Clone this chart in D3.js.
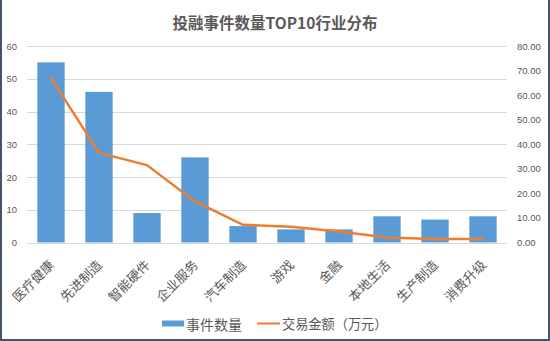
<!DOCTYPE html>
<html>
<head>
<meta charset="utf-8">
<script src="https://cdn.jsdelivr.net/npm/d3@7/dist/d3.min.js"></script>
<style>
  html, body { margin: 0; padding: 0; background: #fff; }
  svg { display: block; }
</style>
</head>
<body>
<svg id="chart" width="550" height="341"></svg>
<script>
// Industries ranked by number of financing events
const categories = ["医疗健康", "先进制造", "智能硬件", "企业服务", "汽车制造", "游戏", "金融", "本地生活", "生产制造", "消费升级"];
// Number of events (left axis)
const eventCounts = [55, 46, 9, 26, 5, 4, 4, 8, 7, 8];
// Deal amount, 万元 (right axis)
const dealAmounts = [67, 36.5, 31.5, 16.7, 7.2, 6.4, 4.5, 2.0, 1.4, 1.4];
const leftTicks = [0, 10, 20, 30, 40, 50, 60];
const rightTicks = [0, 10, 20, 30, 40, 50, 60, 70, 80];

const W = 550, H = 341;
const plot = { left: 27, right: 507, top: 46, bottom: 242.5 };
const textColor = "#595959";
const barColor = "#5B9BD5";
const lineColor = "#ED7D31";
const gridColor = "#D9D9D9";
const cjk = "'Noto Sans CJK SC', 'Noto Sans', sans-serif";
const num = "'Liberation Sans', Arial, sans-serif";

const svg = d3.select("#chart");

// Frame: left, right and bottom edges
svg.append("path")
  .attr("d", `M1,0 V${H - 1} H${W - 1} V0`)
  .attr("fill", "none")
  .attr("stroke", "#44546A")
  .attr("stroke-width", 2);

const x = d3.scaleBand()
  .domain(categories)
  .range([plot.left, plot.right])
  .paddingInner(0.43)
  .paddingOuter(0.215);

const yLeft = d3.scaleLinear().domain([0, 60]).range([plot.bottom, plot.top]);
const yRight = d3.scaleLinear().domain([0, 80]).range([plot.bottom, plot.top]);

// Gridlines
svg.append("g")
  .selectAll("line")
  .data(leftTicks)
  .join("line")
  .attr("x1", plot.left)
  .attr("x2", plot.right)
  .attr("y1", d => Math.round(yLeft(d)) + 0.5)
  .attr("y2", d => Math.round(yLeft(d)) + 0.5)
  .attr("stroke", gridColor)
  .attr("stroke-width", 1);

// Left axis
const axisL = d3.axisLeft(yLeft).tickValues(leftTicks).tickSize(0).tickPadding(0).tickFormat(d3.format("d"));
const gL = svg.append("g").attr("transform", "translate(17,0)").call(axisL);
gL.select(".domain").remove();
gL.selectAll("text")
  .attr("fill", textColor)
  .attr("font-family", num)
  .attr("font-size", "9.5px");

// Right axis
const axisR = d3.axisRight(yRight).tickValues(rightTicks).tickSize(0).tickPadding(0).tickFormat(d3.format(".2f"));
const gR = svg.append("g").attr("transform", "translate(517,0)").call(axisR);
gR.select(".domain").remove();
gR.selectAll("text")
  .attr("fill", textColor)
  .attr("font-family", num)
  .attr("font-size", "9.5px");

// Bars
svg.append("g")
  .selectAll("rect")
  .data(categories)
  .join("rect")
  .attr("x", d => x(d))
  .attr("width", x.bandwidth())
  .attr("y", (d, i) => yLeft(eventCounts[i]))
  .attr("height", (d, i) => yLeft(0) - yLeft(eventCounts[i]))
  .attr("fill", barColor);

// Deal amount line
const line = d3.line()
  .x((d, i) => x(categories[i]) + x.bandwidth() / 2)
  .y(d => yRight(d));
svg.append("path")
  .datum(dealAmounts)
  .attr("d", line)
  .attr("fill", "none")
  .attr("stroke", lineColor)
  .attr("stroke-width", 2.5)
  .attr("stroke-linejoin", "round")
  .attr("stroke-linecap", "round");

// Category labels, rotated
svg.append("g")
  .selectAll("text")
  .data(categories)
  .join("text")
  .attr("transform", d => `translate(${x(d) + x.bandwidth() / 2},262) rotate(-45)`)
  .attr("text-anchor", "end")
  .attr("dominant-baseline", "central")
  .attr("fill", textColor)
  .attr("font-family", cjk)
  .attr("font-size", "13px")
  .text(d => d);

// Title
svg.append("text")
  .attr("x", 275)
  .attr("y", 22)
  .attr("text-anchor", "middle")
  .attr("dominant-baseline", "central")
  .attr("fill", textColor)
  .attr("font-family", cjk)
  .attr("font-weight", "bold")
  .attr("font-size", "15.5px")
  .text("投融事件数量TOP10行业分布");

// Legend
const legend = svg.append("g");
legend.append("rect")
  .attr("x", 162).attr("y", 320.5)
  .attr("width", 22).attr("height", 6)
  .attr("fill", barColor);
legend.append("text")
  .attr("x", 186).attr("y", 323.5)
  .attr("dominant-baseline", "central")
  .attr("fill", textColor)
  .attr("font-family", cjk)
  .attr("font-size", "14px")
  .text("事件数量");
legend.append("line")
  .attr("x1", 257).attr("x2", 280)
  .attr("y1", 323.5).attr("y2", 323.5)
  .attr("stroke", lineColor)
  .attr("stroke-width", 2);
legend.append("text")
  .attr("x", 282).attr("y", 323.5)
  .attr("dominant-baseline", "central")
  .attr("fill", textColor)
  .attr("font-family", cjk)
  .attr("font-size", "13.2px")
  .text("交易金额（万元）");
</script>
</body>
</html>
